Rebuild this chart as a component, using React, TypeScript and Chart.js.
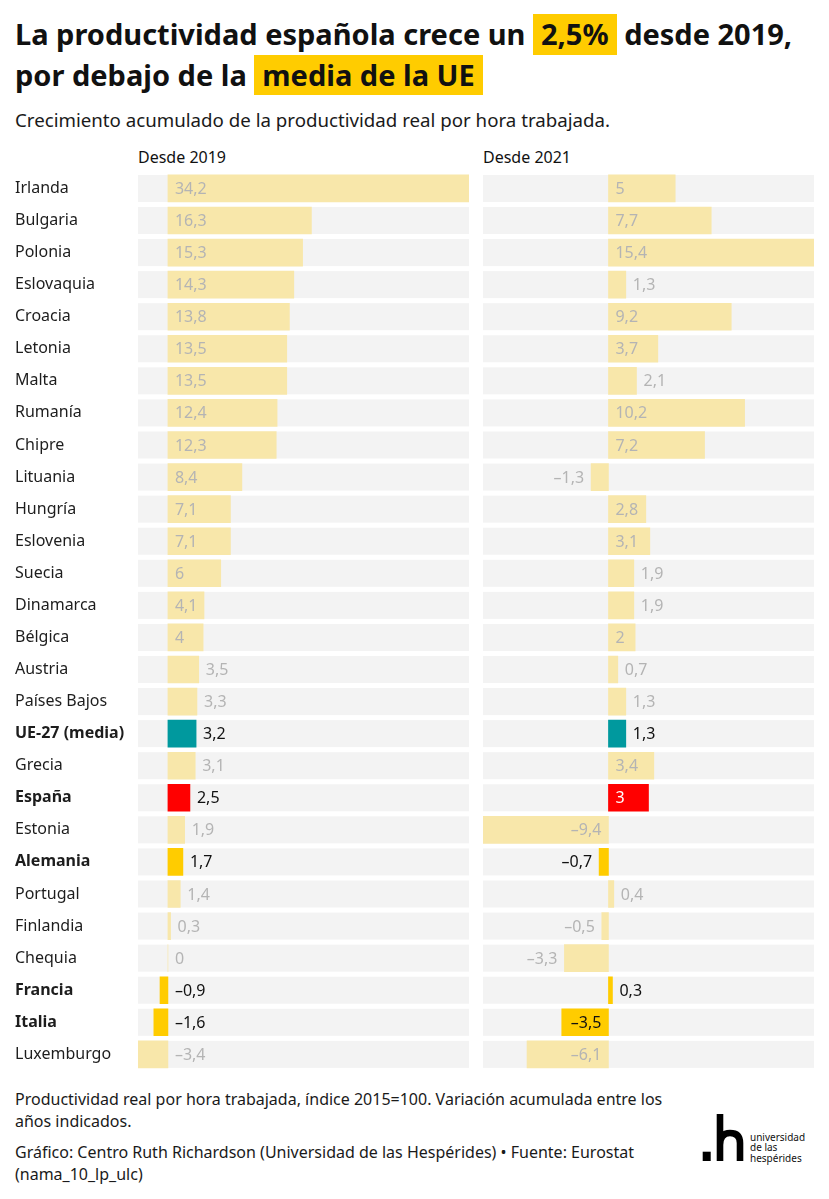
import React, { useEffect, useRef } from "react";
import { Chart, registerables } from "chart.js";

Chart.register(...registerables);

// Países ordenados por crecimiento desde 2019
const countries = [
  "Irlanda", "Bulgaria", "Polonia", "Eslovaquia", "Croacia", "Letonia", "Malta",
  "Rumanía", "Chipre", "Lituania", "Hungría", "Eslovenia", "Suecia", "Dinamarca",
  "Bélgica", "Austria", "Países Bajos", "UE-27 (media)", "Grecia", "España",
  "Estonia", "Alemania", "Portugal", "Finlandia", "Chequia", "Francia", "Italia",
  "Luxemburgo",
];

// Crecimiento acumulado (%) de la productividad real por hora trabajada
const desde2019 = [
  34.2, 16.3, 15.3, 14.3, 13.8, 13.5, 13.5, 12.4, 12.3, 8.4, 7.1, 7.1, 6, 4.1,
  4, 3.5, 3.3, 3.2, 3.1, 2.5, 1.9, 1.7, 1.4, 0.3, 0, -0.9, -1.6, -3.4,
];
const desde2021 = [
  5, 7.7, 15.4, 1.3, 9.2, 3.7, 2.1, 10.2, 7.2, -1.3, 2.8, 3.1, 1.9, 1.9,
  2, 0.7, 1.3, 1.3, 3.4, 3, -9.4, -0.7, 0.4, -0.5, -3.3, 0.3, -3.5, -6.1,
];

const panelTitles = ["Desde 2019", "Desde 2021"];

const FONT = '"Noto Sans", sans-serif';
const TEAL = "#00999e";
const RED = "#ff0000";
const GOLD = "#ffcc00";
const BASE = "#f8e7aa";
const TRACK = "#f3f3f3";
const MUTED = "#b4b4b4";
const INK = "#111111";
const BAR = 27;
const PAD = 7;

const HIGHLIGHT: Record<string, string> = {
  "UE-27 (media)": TEAL,
  "España": RED,
  "Alemania": GOLD,
  "Francia": GOLD,
  "Italia": GOLD,
};

function fmt(v: number): string {
  const s = Math.abs(v).toString().replace(".", ",");
  return v < 0 ? "\u2013" + s : s;
}

// Franja gris de fondo detrás de cada barra
const trackPlugin = {
  id: "tracks",
  beforeDatasetsDraw(chart: any) {
    const { ctx, chartArea, scales } = chart;
    ctx.save();
    ctx.fillStyle = TRACK;
    countries.forEach((_, i) => {
      const yc = scales.y.getPixelForValue(i);
      ctx.fillRect(chartArea.left, yc - BAR / 2, chartArea.right - chartArea.left, BAR);
    });
    ctx.restore();
  },
};

// Etiquetas de valor: dentro de la barra si caben, fuera si no
const valueLabelPlugin = {
  id: "valueLabels",
  afterDatasetsDraw(chart: any) {
    const { ctx, chartArea, scales } = chart;
    const { x, y } = scales;
    const values = chart.data.datasets[0].data as number[];
    const x0 = x.getPixelForValue(0);
    ctx.save();
    ctx.font = `16px ${FONT}`;
    ctx.textBaseline = "middle";
    values.forEach((v, i) => {
      const hl = HIGHLIGHT[countries[i]];
      const x1 = x.getPixelForValue(v);
      const w = Math.abs(x1 - x0);
      const text = fmt(v);
      const tw = ctx.measureText(text).width;
      const yc = y.getPixelForValue(i);
      let tx: number;
      let align: CanvasTextAlign = "left";
      let inside = false;
      if (v >= 0) {
        if (w >= tw + 12) {
          inside = true;
          tx = x0 + PAD;
        } else {
          tx = x1 + PAD;
        }
      } else if (w >= tw + 15) {
        inside = true;
        tx = x0 - PAD;
        align = "right";
      } else if (x1 - chartArea.left >= tw + PAD) {
        tx = x1 - PAD;
        align = "right";
      } else {
        tx = x0 + PAD;
      }
      let color = MUTED;
      if (hl) color = inside && hl === RED ? "#ffffff" : INK;
      ctx.fillStyle = color;
      ctx.textAlign = align;
      ctx.fillText(text, tx, yc + 1);
    });
    ctx.restore();
  },
};

type PanelProps = {
  values: number[];
  showNames: boolean;
  left: number;
  width: number;
  padLeft: number;
  padRight: number;
};

const TOP = 155;
const HEIGHT = 930;

function Panel({ values, showNames, left, width, padLeft, padRight }: PanelProps) {
  const ref = useRef<HTMLCanvasElement | null>(null);
  useEffect(() => {
    if (!ref.current) return;
    const chart = new Chart(ref.current, {
      type: "bar",
      data: {
        labels: countries,
        datasets: [
          {
            data: values,
            backgroundColor: countries.map((c) => HIGHLIGHT[c] ?? BASE),
            barThickness: BAR,
            borderWidth: 0,
          },
        ],
      },
      options: {
        indexAxis: "y",
        responsive: false,
        animation: false,
        events: [],
        layout: { padding: { left: padLeft, right: padRight, top: 17.4, bottom: 14.6 } },
        plugins: { legend: { display: false }, tooltip: { enabled: false } },
        scales: {
          x: {
            display: false,
            min: Math.min(...values),
            max: Math.max(...values),
          },
          y: {
            display: showNames,
            grid: { display: false },
            border: { display: false },
            ticks: {
              autoSkip: false,
              crossAlign: "far",
              padding: 0,
              color: "#1d1d1d",
              font: (c: any) => ({
                family: FONT,
                size: 16,
                weight: HIGHLIGHT[countries[c.index]] ? "bold" : "normal",
              }),
            },
            afterFit: (s: any) => {
              s.width = showNames ? 123 : 0;
            },
          },
        },
      } as any,
      plugins: [trackPlugin, valueLabelPlugin],
    });
    return () => chart.destroy();
  }, [values, showNames, padLeft, padRight]);
  return (
    <canvas
      ref={ref}
      width={width}
      height={HEIGHT}
      style={{ position: "absolute", left, top: TOP, width, height: HEIGHT }}
    />
  );
}

const mark: React.CSSProperties = {
  display: "inline-block",
  background: GOLD,
  lineHeight: "40.5px",
  padding: "0 8px",
};

const note: React.CSSProperties = {
  position: "absolute",
  left: 15,
  fontSize: 16,
  lineHeight: "22px",
  color: "#1a1a1a",
  whiteSpace: "nowrap",
};

export default function App() {
  return (
    <div
      style={{
        position: "absolute",
        left: 0,
        top: 0,
        width: 829,
        height: 1199,
        background: "#ffffff",
        fontFamily: FONT,
        color: "#111",
        overflow: "hidden",
      }}
    >
      <div
        style={{
          position: "absolute",
          left: 15,
          top: 14,
          width: 812,
          fontSize: 29,
          fontWeight: 700,
          lineHeight: "40.5px",
          whiteSpace: "nowrap",
        }}
      >
        La productividad española crece un <span style={mark}>2,5%</span> desde 2019,
        <br />
        por debajo de la <span style={mark}>media de la UE</span>
      </div>
      <div
        style={{
          position: "absolute",
          left: 15,
          top: 107,
          fontSize: 18.7,
          lineHeight: "26px",
          color: "#1a1a1a",
          whiteSpace: "nowrap",
        }}
      >
        Crecimiento acumulado de la productividad real por hora trabajada.
      </div>
      <div style={{ position: "absolute", left: 138, top: 146, fontSize: 16, lineHeight: "22px" }}>
        {panelTitles[0]}
      </div>
      <div style={{ position: "absolute", left: 483, top: 146, fontSize: 16, lineHeight: "22px" }}>
        {panelTitles[1]}
      </div>

      <Panel values={desde2019} showNames={true} left={0} width={480} padLeft={15} padRight={11} />
      <Panel values={desde2021} showNames={false} left={470} width={359} padLeft={13} padRight={15} />

      <div style={{ ...note, top: 1088 }}>
        Productividad real por hora trabajada, índice 2015=100. Variación acumulada entre los
        <br />
        años indicados.
      </div>
      <div style={{ ...note, top: 1141 }}>
        Gráfico: Centro Ruth Richardson (Universidad de las Hespérides) • Fuente: Eurostat
        <br />
        (nama_10_lp_ulc)
      </div>

      <svg
        width={130}
        height={60}
        viewBox="695 1108 130 60"
        style={{ position: "absolute", left: 695, top: 1108 }}
      >
        <rect x={702.7} y={1151.7} width={8} height={9.3} fill="#000" />
        <path
          d="M720 1161 V1114 M720 1145 Q720 1133 730 1133 Q740 1133 740 1143 V1161"
          stroke="#000"
          strokeWidth={6.6}
          fill="none"
        />
        <text x={750} y={1140.5} fontSize={10} fontFamily={FONT} fill="#111">universidad</text>
        <text x={750} y={1151} fontSize={10} fontFamily={FONT} fill="#111">de las</text>
        <text x={750} y={1161.5} fontSize={10} fontFamily={FONT} fill="#111">hespérides</text>
      </svg>
    </div>
  );
}
